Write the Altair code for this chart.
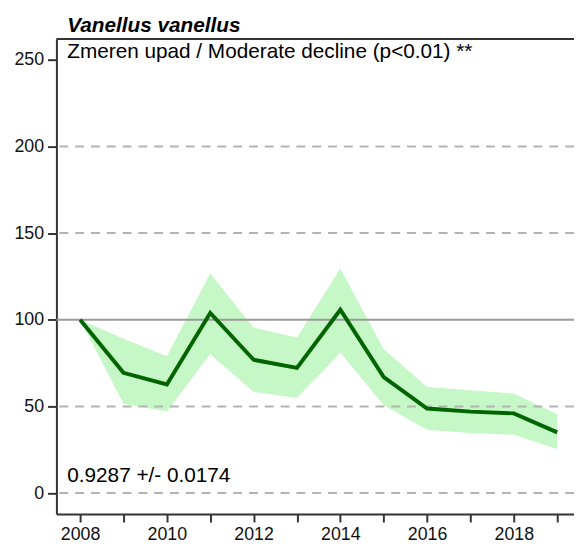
import altair as alt
import pandas as pd

years = [2008, 2009, 2010, 2011, 2012, 2013, 2014, 2015, 2016, 2017, 2018, 2019]
index = [100, 69.4, 62.7, 103.9, 76.9, 72.2, 105.8, 66.9, 48.8, 47.0, 46.0, 35.0]
lower = [100, 51.6, 47.1, 80.2, 58.3, 54.9, 81.1, 50.7, 36.5, 34.6, 33.6, 25.5]
upper = [100, 89.0, 78.9, 126.7, 95.4, 89.7, 129.6, 83.0, 61.2, 59.3, 57.4, 45.5]

grid_dashed = [0, 50, 150, 200]
ref_value = [100]
y_ticks = [0, 50, 100, 150, 200, 250]
x_ticks = list(range(2008, 2020))

title_text = "Vanellus vanellus"
trend_text = "Zmeren upad / Moderate decline (p<0.01) **"
slope_text = "0.9287 +/- 0.0174"

FONT = "Liberation Sans"
LABEL_SIZE = 18
W, H = 524, 481

df = pd.DataFrame({"year": years, "index": index, "lower": lower, "upper": upper})

xscale = alt.Scale(domain=[2007.453, 2019.387], nice=False, zero=False)
yscale = alt.Scale(domain=[-12.1, 262], nice=False, zero=False)

common = dict(labelFont=FONT, labelFontSize=LABEL_SIZE, labelColor="#111",
              domainColor="#333", domainWidth=2, tickColor="#333", tickWidth=2,
              grid=False, title=None)
xaxis = alt.Axis(values=x_ticks, format="d",
                 labelExpr="datum.value % 2 == 0 ? datum.label : ''",
                 tickSize=8, labelPadding=4, labelFlush=False, **common)
yaxis = alt.Axis(values=y_ticks, tickSize=9, labelPadding=4, **common)

base = alt.Chart(df)

band = base.mark_area(color="#c6f7c6", opacity=1).encode(
    x=alt.X("year:Q", scale=xscale, axis=xaxis),
    y=alt.Y("lower:Q", scale=yscale, axis=yaxis),
    y2="upper:Q",
)

dashed = alt.Chart(pd.DataFrame({"v": grid_dashed})).mark_rule(
    color="#b3b3b3", strokeWidth=2, strokeDash=[9, 7]
).encode(y=alt.Y("v:Q", scale=yscale, axis=yaxis))

ref = alt.Chart(pd.DataFrame({"v": ref_value})).mark_rule(
    color="#9a9a9a", strokeWidth=2
).encode(y=alt.Y("v:Q", scale=yscale, axis=yaxis))

line = base.mark_line(color="#006400", strokeWidth=4).encode(
    x=alt.X("year:Q", scale=xscale, axis=xaxis),
    y=alt.Y("index:Q", scale=yscale, axis=yaxis),
)

top_border = alt.Chart(pd.DataFrame({"a": [0]})).mark_rule(
    color="#333", strokeWidth=2
).encode(x=alt.value(0), x2=alt.value(W), y=alt.value(0))

title = alt.Chart(pd.DataFrame({"t": [title_text]})).mark_text(
    font=FONT, fontSize=21, fontWeight="bold", fontStyle="italic",
    align="left", baseline="alphabetic", color="#000"
).encode(text="t:N", x=alt.value(11), y=alt.value(-7))

trend = alt.Chart(pd.DataFrame({"t": [trend_text]})).mark_text(
    font=FONT, fontSize=21, align="left", baseline="middle", color="#000"
).encode(text="t:N", x=alt.value(11), y=alt.value(13))

slope = alt.Chart(pd.DataFrame({"t": [slope_text]})).mark_text(
    font=FONT, fontSize=21, align="left", baseline="middle", color="#000"
).encode(text="t:N", x=alt.value(11), y=alt.value(443))

chart = alt.layer(band, dashed, ref, line, top_border, title, trend, slope).properties(
    width=W, height=H,
    autosize=alt.AutoSizeParams(type="none"),
    padding={"left": 49, "top": 28, "right": 0, "bottom": 30},
).configure_view(stroke=None).configure(background="white").configure_axis(
    labelFont=FONT, labelFontSize=LABEL_SIZE,
)

chart.save("out.html", embed_options={"renderer": "svg", "actions": False})
